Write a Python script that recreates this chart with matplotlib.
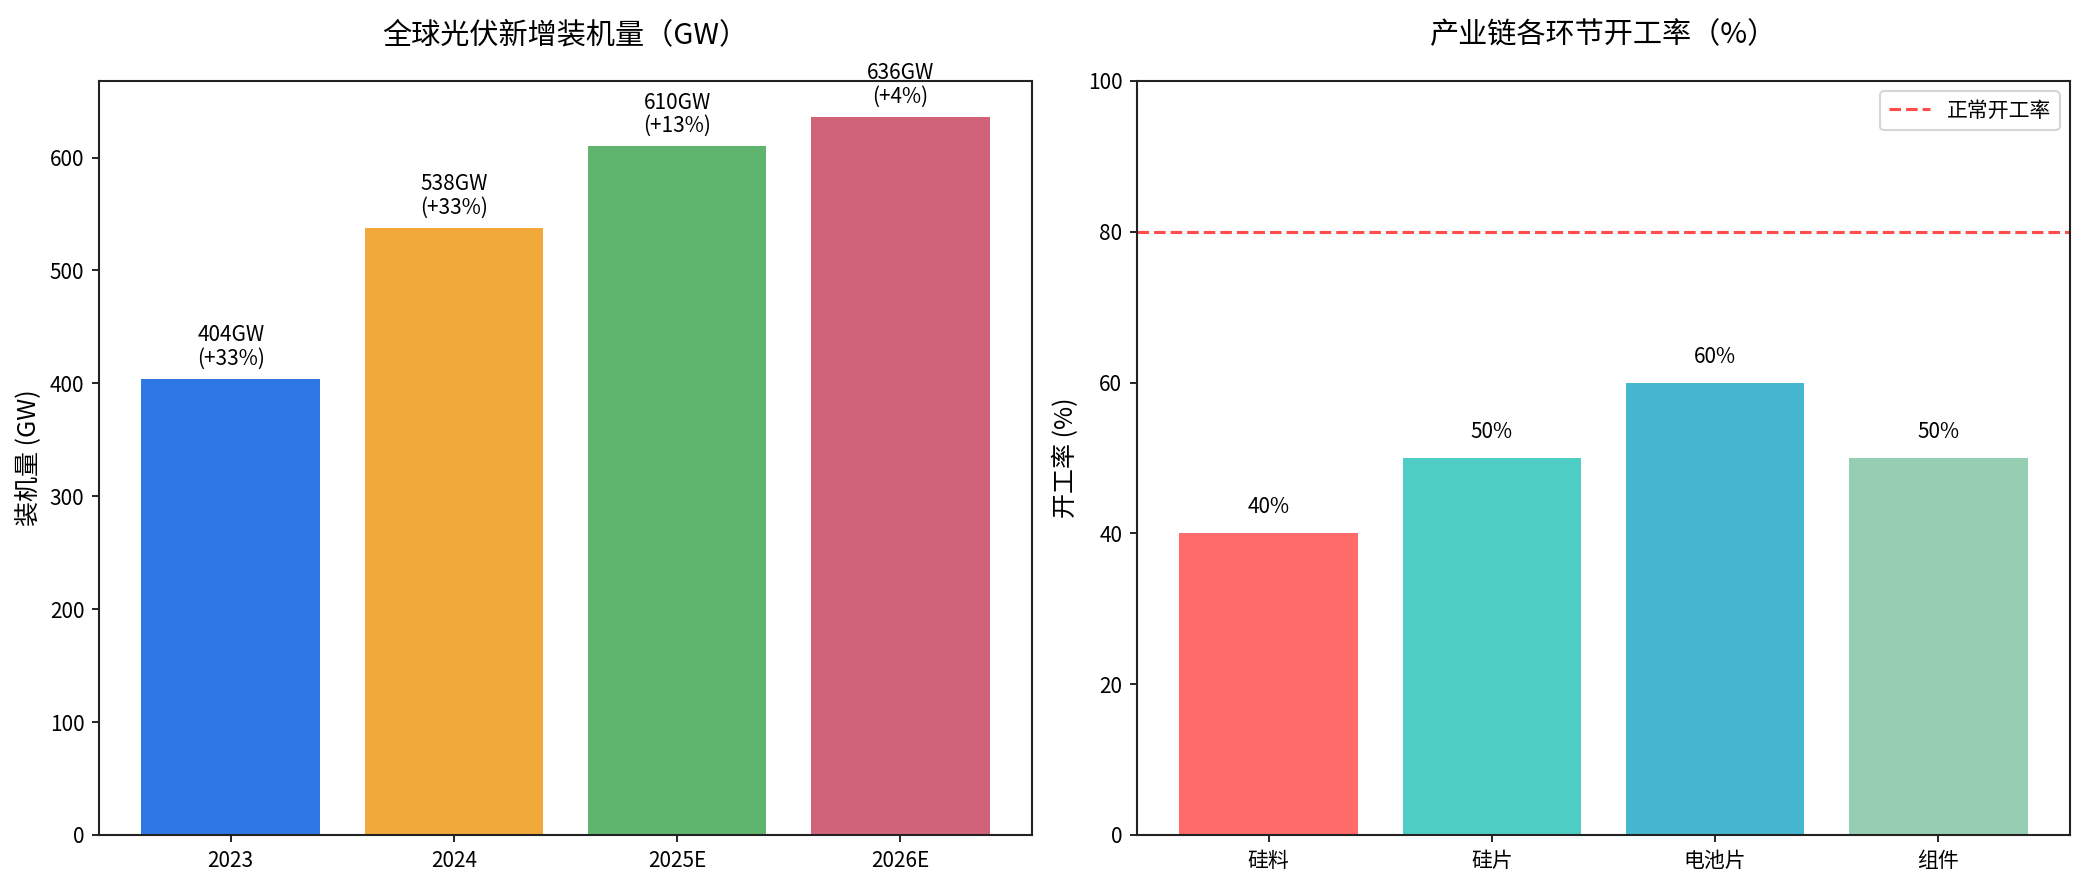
import matplotlib
matplotlib.use("Agg")
import matplotlib.pyplot as plt

plt.rcParams['font.family'] = ['Noto Sans CJK SC', 'DejaVu Sans']
plt.rcParams['axes.unicode_minus'] = False

years = ['2023', '2024', '2025E', '2026E']
install_gw = [404, 538, 610, 636]
growth = ['+33%', '+33%', '+13%', '+4%']
year_colors = ['#2E77E5', '#F2A93B', '#5FB46E', '#D0627A']

segments = ['硅料', '硅片', '电池片', '组件']
utilization = [40, 50, 60, 50]
seg_colors = ['#FF6B6B', '#4ECDC4', '#45B7D1', '#96CEB4']
normal_rate = 80

fig = plt.figure(figsize=(13.9, 5.9), dpi=150)
ax1 = fig.add_axes([0.0475, 0.0565, 0.4475, 0.852])
ax2 = fig.add_axes([0.5453, 0.0565, 0.4475, 0.852])

for ax in (ax1, ax2):
    for s in ax.spines.values():
        s.set_color('#222222')
        s.set_linewidth(1.0)
    ax.tick_params(labelsize=10)

bars = ax1.bar(years, install_gw, color=year_colors, width=0.8)
for b, v, g in zip(bars, install_gw, growth):
    ax1.text(b.get_x() + b.get_width() / 2, v + 8, f'{v}GW\n({g})',
             ha='center', va='bottom', fontsize=10, linespacing=1.1)
ax1.set_ylim(0, max(install_gw) * 1.05)
ax1.set_ylabel('装机量 (GW)', fontsize=12)
ax1.set_title('全球光伏新增装机量（GW）', fontsize=14, pad=18)

bars2 = ax2.bar(segments, utilization, color=seg_colors, width=0.8)
for b, v in zip(bars2, utilization):
    ax2.text(b.get_x() + b.get_width() / 2, v + 2, f'{v}%',
             ha='center', va='bottom', fontsize=10)
ax2.axhline(normal_rate, color='red', linestyle='--', alpha=0.7, linewidth=1.5, label='正常开工率')
ax2.set_ylim(0, 100)
ax2.set_ylabel('开工率 (%)', fontsize=12)
ax2.set_title('产业链各环节开工率（%）', fontsize=14, pad=18)
ax2.legend(loc='upper right', fontsize=10)

fig.savefig('out.png', dpi=150)
